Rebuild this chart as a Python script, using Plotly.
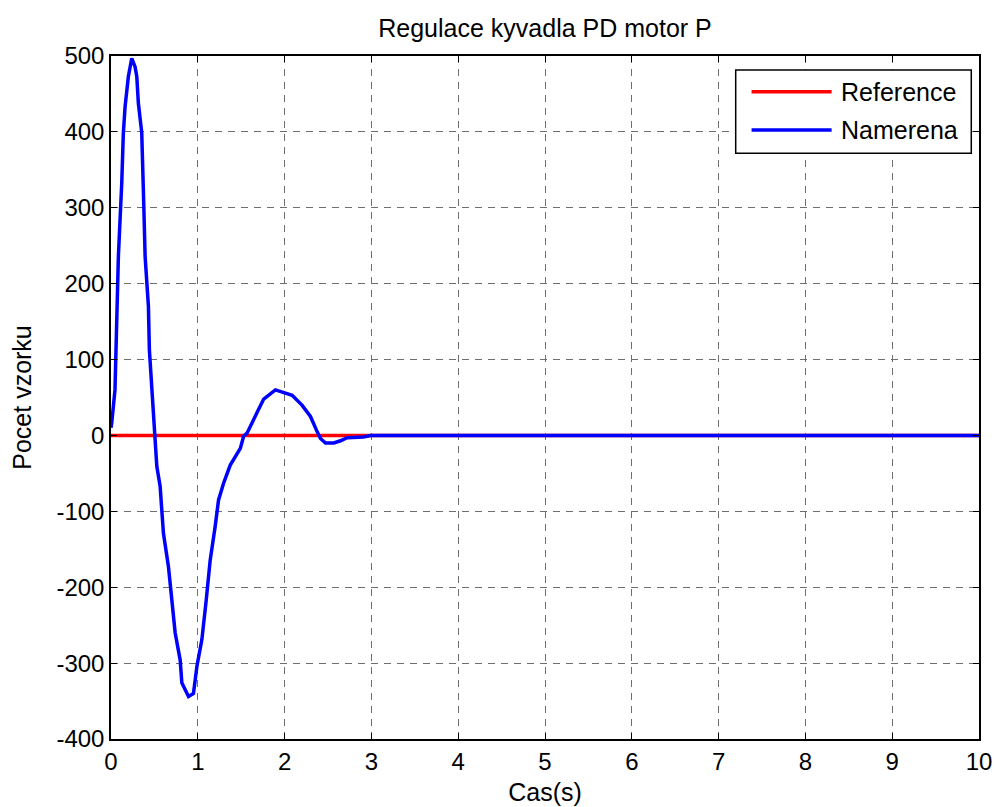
import plotly.graph_objects as go

title = "Regulace kyvadla PD motor P"
x_label = "Cas(s)"
y_label = "Pocet vzorku"
series_names = ["Reference", "Namerena"]

ref_t = [0, 10]
ref_y = [0, 0]

meas_t = [0, 0.008, 0.046, 0.066, 0.085, 0.124, 0.142, 0.162, 0.2, 0.239, 0.277, 0.297,
          0.315, 0.354, 0.37, 0.378, 0.393, 0.431, 0.442, 0.47, 0.497, 0.508, 0.528, 0.566,
          0.604, 0.662, 0.7, 0.739, 0.797, 0.816, 0.893, 0.95, 0.99, 1.047, 1.097, 1.143,
          1.2, 1.239, 1.297, 1.374, 1.49, 1.528, 1.567, 1.663, 1.759, 1.894, 1.99, 2.087,
          2.2, 2.298, 2.367, 2.413, 2.471, 2.567, 2.644, 2.72, 2.91, 2.99, 10]
meas_y = [10, 16, 60, 139, 236, 333, 398, 433, 473, 497, 486, 473,
          438, 399, 346, 302, 236, 170, 113, 60, 17, -1, -41, -67,
          -129, -173, -217, -260, -296, -326, -344, -340, -304, -269, -217, -164,
          -120, -85, -63, -39, -17, -1, 3, 26, 48, 60, 57, 53,
          40, 25, 7, -4, -10, -10, -7, -3, -2, 0, 0]

x_ticks = list(range(0, 11))
y_ticks = list(range(-400, 501, 100))
y_tick_text = [str(v) for v in y_ticks]  # plain hyphen minus as in the reference

FONT = "Liberation Sans, Arial, sans-serif"
TICK_SIZE = 24
LABEL_SIZE = 25

fig = go.Figure()
fig.add_trace(go.Scatter(x=ref_t, y=ref_y, mode="lines", name=series_names[0],
                         line=dict(color="#ff0000", width=3.5), showlegend=False))
fig.add_trace(go.Scatter(x=meas_t, y=meas_y, mode="lines", name=series_names[1],
                         line=dict(color="#0000ff", width=3.5), showlegend=False))

axis_common = dict(showline=True, linecolor="black", linewidth=1.5, mirror="ticks",
                   ticks="inside", ticklen=6, tickcolor="black",
                   showgrid=True, gridcolor="#6e6e6e", griddash="7px,6px", gridwidth=1,
                   zeroline=False, tickfont=dict(family=FONT, size=TICK_SIZE, color="black"))

fig.update_xaxes(range=[0, 10], tickvals=x_ticks,
                 title=dict(text=x_label, font=dict(family=FONT, size=LABEL_SIZE, color="black"), standoff=10),
                 **axis_common)
fig.update_yaxes(range=[-400, 500], tickvals=y_ticks, ticktext=y_tick_text,
                 title=dict(text=y_label, font=dict(family=FONT, size=LABEL_SIZE, color="black"), standoff=18),
                 **axis_common)

# manual legend (paper coords)
shapes = [dict(type="rect", xref="paper", yref="paper", x0=0.7197, x1=0.9911, y0=0.8577, y1=0.9795,
               line=dict(color="black", width=1.5), fillcolor="white", layer="above")]
colors = ["#ff0000", "#0000ff"]
rows = [0.9478, 0.8917]
annotations = []
for name, c, yy in zip(series_names, colors, rows):
    shapes.append(dict(type="line", xref="paper", yref="paper", x0=0.738, x1=0.8302, y0=yy, y1=yy,
                       line=dict(color=c, width=3.5), layer="above"))
    annotations.append(dict(xref="paper", yref="paper", x=0.8385, y=yy, text=name, showarrow=False,
                            xanchor="left", yanchor="middle",
                            font=dict(family=FONT, size=LABEL_SIZE, color="black")))

fig.update_layout(
    width=994, height=807,
    margin=dict(l=111, r=15, t=56, b=68, autoexpand=False),
    paper_bgcolor="white", plot_bgcolor="white",
    title=dict(text=title, xref="paper", x=0.5, xanchor="center", y=1 - 28 / 807, yanchor="middle",
               font=dict(family=FONT, size=LABEL_SIZE, color="black")),
    shapes=shapes, annotations=annotations, showlegend=False,
)

fig.write_html("out.html")
